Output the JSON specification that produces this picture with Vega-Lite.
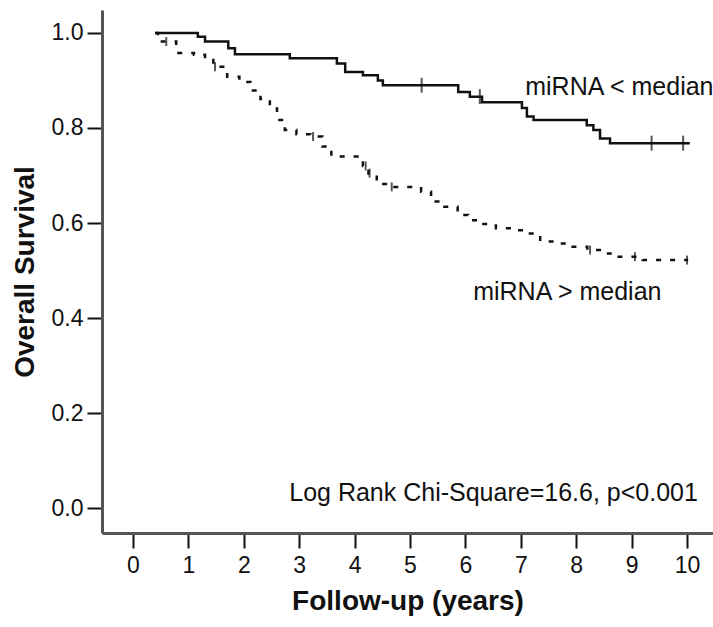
{
  "$schema": "https://vega.github.io/schema/vega-lite/v6.json",
  "width": 611,
  "height": 523,
  "autosize": {"type": "none"},
  "padding": {"left": 102, "top": 10, "right": 0, "bottom": 94},
  "background": "white",
  "view": {"stroke": null},
  "config": {
    "font": "Liberation Sans",
    "axis": {
      "grid": false,
      "domainColor": "#555555",
      "domainWidth": 3,
      "tickColor": "#111111",
      "tickWidth": 2,
      "tickSize": 15,
      "labelFont": "Liberation Sans",
      "labelFontSize": 23,
      "labelColor": "#111111",
      "titleFont": "Liberation Sans",
      "titleFontWeight": "bold",
      "titleFontSize": 28,
      "titleColor": "#111111"
    }
  },
  "datasets": {
    "surv": [
      {"group": "low", "t": 0.40, "s": 1.000},
      {"group": "low", "t": 1.17, "s": 0.992},
      {"group": "low", "t": 1.30, "s": 0.982},
      {"group": "low", "t": 1.72, "s": 0.968},
      {"group": "low", "t": 1.84, "s": 0.955},
      {"group": "low", "t": 2.83, "s": 0.947},
      {"group": "low", "t": 3.68, "s": 0.936},
      {"group": "low", "t": 3.83, "s": 0.918},
      {"group": "low", "t": 4.15, "s": 0.911},
      {"group": "low", "t": 4.42, "s": 0.900},
      {"group": "low", "t": 4.51, "s": 0.890},
      {"group": "low", "t": 5.87, "s": 0.876},
      {"group": "low", "t": 6.08, "s": 0.866},
      {"group": "low", "t": 6.30, "s": 0.854},
      {"group": "low", "t": 7.02, "s": 0.842},
      {"group": "low", "t": 7.11, "s": 0.824},
      {"group": "low", "t": 7.23, "s": 0.817},
      {"group": "low", "t": 8.19, "s": 0.806},
      {"group": "low", "t": 8.31, "s": 0.796},
      {"group": "low", "t": 8.43, "s": 0.778},
      {"group": "low", "t": 8.61, "s": 0.768},
      {"group": "low", "t": 10.05, "s": 0.768},
      {"group": "high", "t": 0.40, "s": 1.000},
      {"group": "high", "t": 0.45, "s": 0.982},
      {"group": "high", "t": 0.78, "s": 0.958},
      {"group": "high", "t": 1.10, "s": 0.954},
      {"group": "high", "t": 1.30, "s": 0.943},
      {"group": "high", "t": 1.45, "s": 0.929},
      {"group": "high", "t": 1.70, "s": 0.908},
      {"group": "high", "t": 1.92, "s": 0.897},
      {"group": "high", "t": 2.12, "s": 0.879},
      {"group": "high", "t": 2.30, "s": 0.861},
      {"group": "high", "t": 2.47, "s": 0.841},
      {"group": "high", "t": 2.60, "s": 0.817},
      {"group": "high", "t": 2.74, "s": 0.796},
      {"group": "high", "t": 2.95, "s": 0.787},
      {"group": "high", "t": 3.20, "s": 0.782},
      {"group": "high", "t": 3.42, "s": 0.761},
      {"group": "high", "t": 3.58, "s": 0.740},
      {"group": "high", "t": 4.15, "s": 0.720},
      {"group": "high", "t": 4.25, "s": 0.701},
      {"group": "high", "t": 4.40, "s": 0.682},
      {"group": "high", "t": 4.60, "s": 0.676},
      {"group": "high", "t": 5.20, "s": 0.666},
      {"group": "high", "t": 5.38, "s": 0.645},
      {"group": "high", "t": 5.62, "s": 0.634},
      {"group": "high", "t": 5.86, "s": 0.617},
      {"group": "high", "t": 6.05, "s": 0.606},
      {"group": "high", "t": 6.28, "s": 0.598},
      {"group": "high", "t": 6.55, "s": 0.589},
      {"group": "high", "t": 6.88, "s": 0.585},
      {"group": "high", "t": 7.12, "s": 0.578},
      {"group": "high", "t": 7.35, "s": 0.561},
      {"group": "high", "t": 7.65, "s": 0.557},
      {"group": "high", "t": 7.90, "s": 0.550},
      {"group": "high", "t": 8.20, "s": 0.543},
      {"group": "high", "t": 8.45, "s": 0.536},
      {"group": "high", "t": 8.68, "s": 0.529},
      {"group": "high", "t": 9.20, "s": 0.522},
      {"group": "high", "t": 10.02, "s": 0.522}
    ],
    "censor": [
      {"group": "low", "t": 5.21, "s": 0.890},
      {"group": "low", "t": 6.26, "s": 0.866},
      {"group": "low", "t": 9.36, "s": 0.768},
      {"group": "low", "t": 9.93, "s": 0.768},
      {"group": "high", "t": 0.60, "s": 0.982},
      {"group": "high", "t": 1.48, "s": 0.929},
      {"group": "high", "t": 3.25, "s": 0.782},
      {"group": "high", "t": 4.20, "s": 0.720},
      {"group": "high", "t": 4.27, "s": 0.705},
      {"group": "high", "t": 4.67, "s": 0.676},
      {"group": "high", "t": 8.25, "s": 0.543},
      {"group": "high", "t": 9.06, "s": 0.529},
      {"group": "high", "t": 10.00, "s": 0.522}
    ],
    "labels": [
      {"text": "miRNA < median", "t": 7.08, "s": 0.886},
      {"text": "miRNA > median", "t": 6.14, "s": 0.455},
      {"text": "Log Rank Chi-Square=16.6, p<0.001", "t": 2.82, "s": 0.032}
    ]
  },
  "layer": [
    {
      "data": {"name": "surv"},
      "mark": {"type": "line", "interpolate": "step-after", "color": "#111111", "strokeWidth": 2.5},
      "encoding": {
        "x": {
          "field": "t", "type": "quantitative",
          "scale": {"domain": [-0.5596, 10.469], "nice": false, "zero": false},
          "axis": {"values": [0,1,2,3,4,5,6,7,8,9,10], "format": "d", "title": "Follow-up (years)", "labelPadding": 6, "titlePadding": 10, "labelFlush": false}
        },
        "y": {
          "field": "s", "type": "quantitative",
          "scale": {"domain": [-0.0526, 1.0484], "nice": false, "zero": false},
          "axis": {"values": [0, 0.2, 0.4, 0.6, 0.8, 1.0], "format": ".1f", "title": "Overall Survival", "labelPadding": 4, "titlePadding": 12, "labelFlush": false}
        },
        "detail": {"field": "group"},
        "strokeDash": {
          "field": "group", "type": "nominal",
          "scale": {"domain": ["low", "high"], "range": [[1, 0], [5, 9]]},
          "legend": null
        }
      }
    },
    {
      "data": {"name": "censor"},
      "mark": {"type": "tick", "orient": "vertical", "color": "#111111", "thickness": 2},
      "encoding": {
        "x": {"field": "t", "type": "quantitative"},
        "y": {"field": "s", "type": "quantitative"},
        "size": {
          "field": "group", "type": "nominal",
          "scale": {"domain": ["low", "high"], "range": [15, 9]},
          "legend": null
        }
      }
    },
    {
      "data": {"name": "labels"},
      "mark": {"type": "text", "align": "left", "baseline": "middle", "fontSize": 25, "color": "#111111", "font": "Liberation Sans"},
      "encoding": {
        "x": {"field": "t", "type": "quantitative"},
        "y": {"field": "s", "type": "quantitative"},
        "text": {"field": "text"}
      }
    }
  ]
}
